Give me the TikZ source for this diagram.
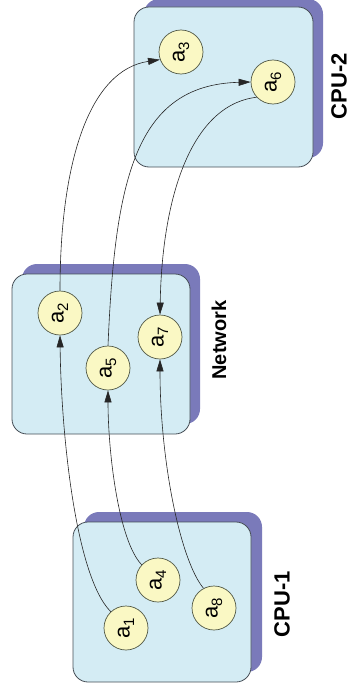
\documentclass[tikz,border=0pt]{standalone}
\usepackage{fontspec}
\setmainfont{Liberation Sans}
\usetikzlibrary{arrows.meta}
\definecolor{boxfill}{RGB}{212,236,244}
\definecolor{shadowc}{RGB}{122,122,186}
\definecolor{nodefill}{RGB}{250,248,196}
\definecolor{edgec}{RGB}{70,78,86}
\newcommand{\proc}[1]{\rotatebox{90}{\fontsize{22}{26}\selectfont a\raisebox{-4.5pt}{\fontsize{15}{17}\selectfont #1}}}
\begin{document}
\begin{tikzpicture}[x=1pt,y=-1pt,
  shadowbox/.style={fill=shadowc, rounded corners=15pt},
  frontbox/.style={fill=boxfill, draw=edgec, line width=0.8pt, rounded corners=15pt},
  procnode/.style={circle, fill=nodefill, draw=edgec!80!olive, line width=0.7pt,
    minimum size=44pt, inner sep=0pt},
  boxlabel/.style={rotate=90, inner sep=0pt, font=\bfseries\fontsize{22}{26}\selectfont},
  msg/.style={draw=black!85, line width=0.6pt, -{Triangle[length=12pt,width=7pt]}}]
\useasboundingbox (0,0) rectangle (350,693);

% machines: offset shadow, then the front panel
\fill[shadowbox] (144,-1) rectangle (323,158);
\draw[frontbox] (134,7) rectangle (313,167);
\fill[shadowbox] (22,264) rectangle (200,424);
\draw[frontbox] (12,274) rectangle (190,434);
\fill[shadowbox] (84,512) rectangle (262,672);
\draw[frontbox] (73,522) rectangle (251,682);

\node[boxlabel] (cpu2) at (339,86) {CPU-2};
\node[boxlabel, font=\bfseries\fontsize{20}{24}\selectfont] (net) at (219,340) {Network};
\node[boxlabel] (cpu1) at (282,604) {CPU-1};

% processes
\node[procnode] (a1) at (126,628) {\proc{1}};
\node[procnode] (a2) at (60,313) {\proc{2}};
\node[procnode] (a3) at (181,52) {\proc{3}};
\node[procnode] (a4) at (158,580) {\proc{4}};
\node[procnode] (a5) at (108,368) {\proc{5}};
\node[procnode] (a6) at (273,82) {\proc{6}};
\node[procnode] (a7) at (160,337) {\proc{7}};
\node[procnode] (a8) at (214,608) {\proc{8}};

% messages
\draw[msg] (a1.133) .. controls (75,576) and (61,430) .. (a2.south);
\draw[msg] (a2.north) .. controls (60,160) and (90,70) .. (a3.200);
\draw[msg] (a4.137) .. controls (118,540) and (108,450) .. (a5.south);
\draw[msg] (a5.north) .. controls (115,180) and (135,85) .. (a6.180);
\draw[msg] (a6.223) .. controls (190,105) and (162,200) .. (a7.north);
\draw[msg] (a8.118) .. controls (180,560) and (160,460) .. (a7.south);
\end{tikzpicture}
\end{document}
